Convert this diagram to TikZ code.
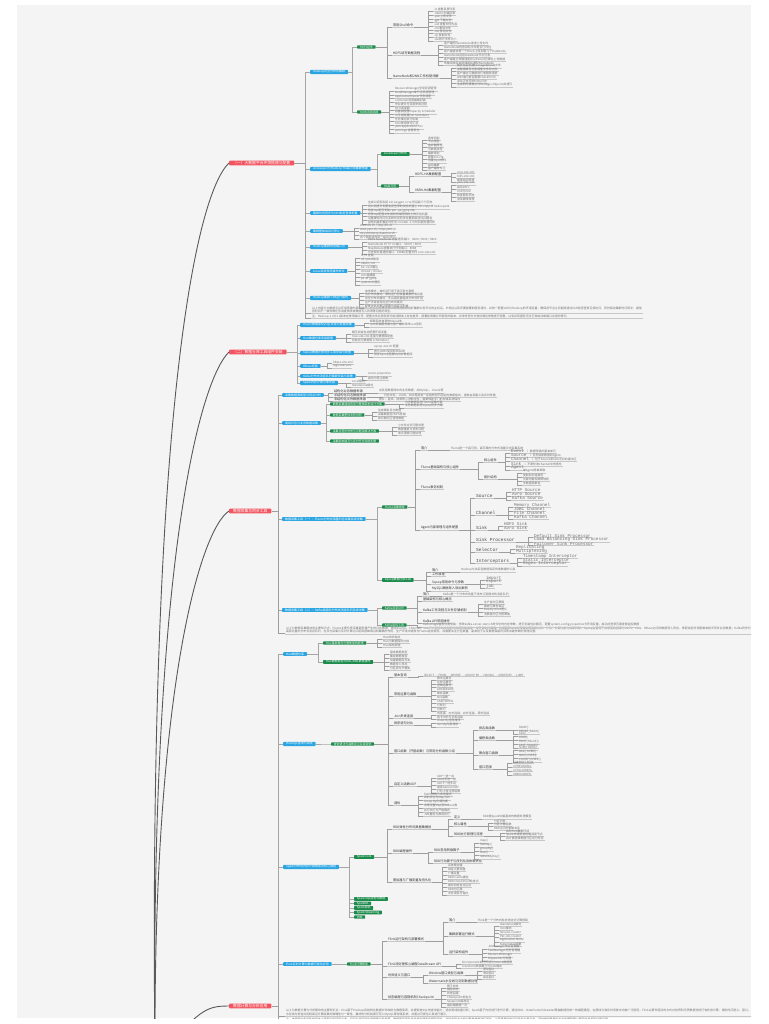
\documentclass[tikz,border=0pt]{standalone}
\usepackage{fontspec}
\setmainfont{Noto Sans CJK SC}
\newfontfamily\lat{Liberation Mono}
\XeTeXlinebreaklocale "zh"
\XeTeXlinebreakskip = 0pt plus 1pt

\definecolor{topicred}{HTML}{F25560}
\definecolor{subblue}{HTML}{2AA5E2}
\definecolor{tagreen}{HTML}{1D8B4C}
\definecolor{panel}{HTML}{F4F4F4}

\tikzset{
  topic/.style={fill=topicred, text=white, font=\fontsize{3.8}{3.8}\selectfont,
    inner xsep=4pt, inner ysep=0.6pt, rounded corners=0.8pt, anchor=west},
  blu/.style={fill=subblue, text=white, font=\fontsize{3}{3}\selectfont,
    inner xsep=2.8pt, inner ysep=0.5pt, rounded corners=0.7pt, anchor=west},
  grn/.style={fill=tagreen, text=white, font=\fontsize{2.9}{2.9}\selectfont,
    inner xsep=2.6pt, inner ysep=0.35pt, rounded corners=0.6pt, anchor=west},
  leaf/.style={text=black!55, font=\fontsize{2.9}{3.2}\selectfont,
    inner xsep=0.8pt, inner ysep=0.3pt, anchor=west,
    append after command={(\tikzlastnode.south west) edge[uline] (\tikzlastnode.south east)}},
  item/.style={leaf, text=black!80, font=\fontsize{3.2}{3.4}\selectfont},
  mono/.style={item, text=black!70, font=\lat\fontsize{4.6}{4.8}\selectfont},
  monoleaf/.style={leaf, font=\lat\fontsize{4.3}{4.5}\selectfont},
  note/.style={leaf, text width=#1, align=left, font=\fontsize{2.9}{3.6}\selectfont},
  uline/.style={draw=black!22, line width=0.35pt},
  link/.style={draw=black!38, line width=0.4pt},
  trunk/.style={draw=black!35, line width=0.8pt},
  main/.style={draw=black!65, line width=0.9pt},
}

% leaves spaced evenly: [style]{parent anchor}{prefix}{x}{first y}{step}{texts}
\newcommand{\addleaves}[7][leaf]{%
  \foreach \txt [count=\i] in {#7} {
    \node[#1] (#3\i) at (#4,{#5+(\i-1)*#6}) {\txt};
    \draw[link] (#3\i.south west) -- ++(-5,0) |- (#2);
  }}
% children at given rows: [style]{parent anchor}{prefix}{x}{y/text,...}
\newcommand{\additems}[5][item]{%
  \foreach \yy/\txt [count=\i] in {#5} {
    \node[#1] (#3\i) at (#4,\yy) {\txt};
    \draw[link] (#3\i.south west) -- ++(-5,0) |- (#2);
  }}
\newcommand{\mt}[1]{{\lat\fontsize{4.3}{4.3}\selectfont #1}}

\begin{document}
\begin{tikzpicture}[x=1pt,y=-1pt]
\useasboundingbox (0,0) rectangle (768,1024);
\fill[panel] (17,5) rectangle (751,1018);
\begin{scope}
\clip (17,5) rectangle (751,1018);

\node[topic] (R1) at (229,163)  {（一）大数据平台环境搭建与配置};
\node[topic] (R2) at (229,352)  {（二）数据仓库工具组件安装};
\node[topic] (R3) at (229,511)  {数据采集与同步工具};
\node[topic] (R4) at (229,1006) {数据计算与分析应用};

\coordinate (root) at (155,1060);
\draw[main] (root) .. controls (148,420) and (195,195) .. (R1.west);
\draw[main] (root) .. controls (150,560) and (200,380) .. (R2.west);
\draw[main] (root) .. controls (153,690) and (200,530) .. (R3.west);
\draw[main] (root) .. controls (200,1010) and (205,1006) .. (R4.west);

% (一)
\node[blu] (B1) at (310,72)  {Hadoop完全分布式集群};
\node[blu] (B2) at (310,169) {Zookeeper与Hadoop HA高可用集群搭建};
\node[blu] (B3) at (310,213) {集群时间同步与SSH免密登录配置};
\node[blu] (B4) at (310,231) {集群整体启动与停止};
\node[blu] (B5) at (310,247) {Hadoop集群常用端口号};
\node[blu] (B6) at (310,271) {Linux系统常用操作命令};
\node[blu] (B7) at (310,298) {Hadoop集群三种运行模式};
\node[note=330pt] (N1) at (311,310) {以上内容为大数据平台环境搭建的基础部分，在实际部署过程中需要提前规划好集群中各节点的主机名、IP地址以及所要部署的服务组件，并统一配置JDK与Hadoop的环境变量，确保各节点之间能够通过SSH免密登录互相访问，同时保持集群时间同步，避免因时间不一致导致任务调度失败或数据写入异常等问题的发生。};
\node[note=330pt] (N2) at (311,316.5) {注：Hadoop 2.x与3.x版本在常用端口号、配置文件名称及部分启动脚本上存在差异，部署前请确认所使用的版本，并参考官方文档对相应参数进行调整，以免出现服务无法正常启动或端口冲突的情况。};
\foreach \s in {B1,B2,B3,B4,B5,B6,B7} \draw[trunk] (\s.west) -- ++(-5,0) |- (R1.east);
\foreach \s in {N1,N2} \draw[link] (\s.south west) -- ++(-6,0) |- (R1.east);

\node[grn] (G1) at (357,47)  {HDFS组件};
\node[grn] (G2) at (357,112) {YARN资源调度};
\foreach \s in {G1,G2} \draw[trunk] (\s.west) -- ++(-5,0) |- (B1.east);
\additems{G1.east}{g1s}{392}{25/常用Shell命令, 53/HDFS读写数据流程, 76/NameNode和2NN工作机制详解}
\addleaves{g1s1.south east}{g1sa}{433}{9.3}{3.75}{-ls 查看目录列表, -mkdir 创建目录, -put 上传文件, -get 下载文件, -cat 查看文件内容, -rm 删除文件, -mv 移动文件, -cp 复制文件, -du 统计文件大小}
\addleaves{g1s2.south east}{g1sb}{443}{43}{4}{客户端向NameNode请求上传文件, NameNode检查目标文件是否已存在, 客户端请求第一个Block上传到哪几个DataNode, NameNode返回DataNode节点列表, 客户端建立传输通道并以Packet为单位上传数据, 传输完成后关闭通道并通知NameNode}
\addleaves{g1s3.south east}{g1sc}{456}{66}{3.8}{格式化后创建Fsimage和Edits文件, 加载编辑日志和镜像文件到内存, 客户端对元数据进行增删改请求, 2NN询问是否需要CheckPoint, 滚动正在写的Edits日志, 生成新的镜像文件fsimage.chkpoint并拷贝}
\addleaves{G2.east}{g2l}{394}{89}{3.8}{ResourceManager全局资源管理, NodeManager单节点资源管理, ApplicationMaster任务调度, Container资源抽象封装, 作业提交与资源申请过程, FIFO调度器, 容量调度器Capacity Scheduler, 公平调度器Fair Scheduler, 任务推测执行机制, Yarn常用命令汇总, yarn application -list, yarn logs 查看日志}

\node[grn] (G3) at (381,154) {Zookeeper分布式};
\node[grn] (G4) at (381,186) {HA高可用};
\foreach \s in {G3,G4} \draw[trunk] (\s.west) -- ++(-4,0) |- (B2.east);
\addleaves{G3.east}{g3l}{427}{138}{3.85}{选举机制, 节点类型, 监听器原理, 写数据流程, 集群规划, 配置zoo.cfg, 创建myid文件, 启动集群, 客户端命令行}
\additems{G4.east}{g4s}{414}{174/HDFS-HA集群配置, 190/YARN-HA集群配置}
\addleaves{g4s1.south east}{g4sa}{456}{172}{4}{core-site.xml, hdfs-site.xml, 故障自动转移}
\addleaves{g4s2.south east}{g4sb}{456}{183}{4}{yarn-site.xml, 启动ZKFC, rm1与rm2, 检查服务状态, 测试故障转移}

\addleaves{B3.east}{b3l}{367}{203}{3.8}{生成公钥和私钥 ssh-keygen -t rsa 然后敲三个回车, 将公钥拷贝到要免密登录的目标机器上 ssh-copy-id hadoop102, 检查ntp是否安装 rpm -qa | grep ntp, 修改ntp配置文件授权局域网网段上的所有机器, 设置硬件时间与系统时间同步并重新启动ntpd服务, 其他机器配置定时任务 crontab -e 与时间服务器同步}
\addleaves{B4.east}{b4l}{359}{226}{3.7}{start-dfs.sh / stop-dfs.sh, start-yarn.sh / stop-yarn.sh, mr-jobhistory-daemon.sh, 各个服务组件逐一启动/停止}
\addleaves{B5.east}{b5l}{367}{240}{4.2}{HDFS NameNode 内部通讯端口：8020 / 9000 / 9820, NameNode HTTP UI 端口：50070 / 9870, MapReduce查看执行任务端口：8088, 历史服务器通信端口：19888 配置文件 core-site.xml}
\addleaves{B6.east}{b6l}{360}{256}{3.85}{ls / ll 查看, cd / pwd 目录, mkdir / rm, tar -zxvf 解压, chmod / chown, vim 编辑器, ps -ef | grep, systemctl 服务}
\addleaves{B7.east}{b7l}{364}{291}{3.8}{本地模式：单机运行用于演示官方案例, 伪分布式模式：单机运行但具备集群所有功能, 完全分布式模式：多台服务器组成分布式环境, 生产环境使用完全分布式模式, 配置文件分默认配置与自定义配置}

% (二)
\node[blu] (B8)  at (300,325) {Hive元数据库MySQL安装与配置部署};
\node[blu] (B9)  at (300,338) {Hive数据仓库安装配置};
\node[blu] (B10) at (300,353) {Sqoop数据迁移同步工具安装与配置};
\node[blu] (B11) at (300,366) {HBase安装};
\node[blu] (B12) at (300,376) {Kafka分布式消息队列集群安装与部署};
\node[blu] (B13) at (300,383) {Spark内存计算引擎安装};
\foreach \s in {B8,B9,B10,B11,B12,B13} \draw[trunk] (\s.west) -- ++(-3,0) |- (R2.east);
\addleaves{B8.east}{b8l}{369}{321}{4}{卸载系统自带的MariaDB, rpm安装服务端与客户端并修改root密码}
\addleaves{B9.east}{b9l}{351}{332}{4}{解压安装包并配置环境变量, hive-site.xml 连接元数据库配置, 初始化元数据库 schematool}
\addleaves{B10.east}{b10l}{373}{347}{4}{sqoop-env.sh 配置, 拷贝JDBC驱动到lib目录, 验证Sqoop连接MySQL数据库}
\addleaves{B11.east}{b11l}{332}{362}{4}{hbase-site.xml, regionservers}
\addleaves{B12.east}{b12l}{367}{374}{4}{server.properties, 启动与停止脚本}
\addleaves{B13.east}{b13l}{351}{381}{4}{Local模式, Standalone模式}

% 数据采集
\node[blu] (B14) at (282,395) {采集数据源类型与特点分析};
\node[blu] (B15) at (282,423) {离线日志与业务数据采集};
\node[blu] (B16) at (282,519) {数据采集工具（一）：Flume分布式海量日志采集系统详解};
\node[blu] (B17) at (282,610) {数据采集工具（二）：Kafka高吞吐分布式消息队列系统详解};
\node[note=465pt] (N3) at (285,630) {以上为数据采集模块的主要知识点：Flume主要负责采集服务器产生的日志数据，通过Source、Channel、Sink三大组件构成完整的数据传输通道，并可借助拦截器、选择器和Sink处理器实现数据过滤、分流、负载均衡与故障转移；Sqoop主要用于关系型数据库与HDFS、Hive、HBase之间的数据导入导出，常配合定时调度脚本按天同步业务数据；Kafka则作为高吞吐量的分布式消息队列，在日志采集与实时计算之间起到削峰填谷和解耦的作用，生产环境中通常与Flume组合使用，并需要关注分区数量、副本因子以及数据保留时间等关键参数的合理设置。};
\foreach \s in {B14,B15,B16,B17} \draw[trunk] (\s.west) -- ++(-4,0) |- (R3.east);
\draw[link] (N3.south west) -- ++(-7,0) |- (R3.east);

\additems{B14.east}{b14s}{333}{391/结构化业务数据来源, 395/半结构化日志数据来源, 399/非结构化文件数据来源}
\additems[leaf]{b14s1.south east}{b14a}{378}{391/关系型数据库中的业务数据，如MySQL、Oracle等}
\additems[leaf]{b14s2.south east}{b14b}{383}{395/日志文件、JSON、XML等具有一定结构但不固定的数据格式，通常由采集工具实时传输}
\additems[leaf]{b14s3.south east}{b14c}{378}{399/图片、音频、视频等二进制文件，需要借助专门的存储系统保存}

\node[grn] (G5) at (330,404) {数据采集通道选型与整体架构设计方案};
\node[grn] (G6) at (330,415) {数据采集整体流程说明};
\node[grn] (G7) at (330,431) {采集过程中的常见问题及解决方案};
\node[grn] (G8) at (330,441) {采集脚本编写与定时任务调度配置};
\foreach \s in {G5,G6,G7,G8} \draw[trunk] (\s.west) -- ++(-4,0) |- (B15.east);
\addleaves{G5.east}{g5l}{404}{402}{4}{日志数据采用Flume采集方案, 业务数据采用Sqoop同步方案}
\addleaves{G6.east}{g6l}{377}{410}{4}{生成模拟日志数据, 采集数据至HDFS存储, 按日期分区管理数据}
\addleaves{G7.east}{g7l}{397}{425}{4}{小文件过多问题处理, 数据重复与丢失问题, 零点漂移问题处理}

\node[grn] (G9)  at (382,507) {Flume采集框架};
\node[grn] (G10) at (382,580) {Sqoop数据迁移工具};
\foreach \s in {G9,G10} \draw[trunk] (\s.west) -- ++(-5,0) |- (B16.east);
\additems{G9.east}{g9s}{420}{448/简介, 467/Flume基础架构与核心组件, 487/Flume事务机制, 528/Agent内部原理与组件配置}
\additems[leaf]{g9s1.south east}{g9a}{450}{448/Flume是一个高可用、高可靠的分布式海量日志采集系统}
\additems{g9s2.south east}{g9b}{483}{460/核心组件, 477/拓扑结构}
\addleaves{g9b1.south east}{g9ba}{510}{451}{4.2}{\mt{Event :} 数据传输的基本单元, \mt{Source :} 负责接收数据到Agent, \mt{Channel :} 位于Source和Sink之间的缓冲区, \mt{Sink :} 不断轮询Channel中的事件, \mt{Agent}}
\addleaves{g9b2.south east}{g9bb}{522}{471}{4}{单Agent简单串联, 复制和多路复用, 负载均衡和故障转移, 多数据源聚合}
\additems[mono]{g9s4.south east}{g9c}{475}{496/Source, 513/Channel, 528/Sink, 540/Sink Processor, 550/Selector, 561/Interceptors}
\addleaves[monoleaf]{g9c1.south east}{g9ca}{511}{490}{4}{HTTP Source, Avro Source, Kafka Source}
\addleaves[monoleaf]{g9c2.south east}{g9cb}{513}{505}{4}{Memory Channel, JDBC Channel, File Channel, Kafka Channel}
\addleaves[monoleaf]{g9c3.south east}{g9cc}{503}{524}{4}{HDFS Sink, Avro Sink}
\addleaves[monoleaf]{g9c4.south east}{g9cd}{533}{535.5}{4}{Default Sink Processor, Load Balancing Sink Processor, Failover Sink Processor}
\addleaves[monoleaf]{g9c5.south east}{g9ce}{515}{547}{4}{Replicating, Multiplexing}
\addleaves[monoleaf]{g9c6.south east}{g9cf}{522}{556}{4}{Timestamp Interceptor, Static Interceptor, Regex Interceptor}

\additems{G10.east}{g10s}{431}{570/简介, 574/工作原理, 582/Sqoop常用命令与参数, 589/MySQL数据导入导出案例}
\additems[leaf]{g10s1.south east}{g10a}{460}{570/Hadoop与关系型数据库间传递数据的工具}
\addleaves[monoleaf]{g10s3.south east}{g10b}{485}{578}{4}{import, export, job}

\node[grn] (G11) at (382,608) {Kafka消息队列};
\node[grn] (G12) at (382,625) {Kafka监控工具};
\foreach \s in {G11,G12} \draw[trunk] (\s.west) -- ++(-5,0) |- (B17.east);
\additems{G11.east}{g11s}{422}{594/简介, 599/基础架构与核心概念, 610/Kafka工作流程与文件存储机制, 621/Kafka API常用操作}
\additems[leaf]{g11s1.south east}{g11a}{442}{594/Kafka是一个分布式的基于发布订阅模式的消息队列}
\addleaves{g11s3.south east}{g11b}{483}{602}{4}{生产者分区策略, 数据可靠性保证, Exactly Once语义, 消费者分区分配策略}
\additems[leaf]{G12.east}{g12a}{422}{625/Kafka Eagle监控工具安装：修改kafka-server-start.sh命令中的内存参数，拷贝安装包并解压，配置system-config.properties与环境变量，启动并登录页面查看监控数据}

% 数据计算
\node[blu] (B18) at (283,654) {Hive数据仓库};
\node[blu] (B19) at (283,744) {HiveSQL查询与调优};
\node[blu] (B20) at (283,867) {Spark分布式内存计算框架及核心编程};
\node[blu] (B21) at (283,964) {Flink实时计算与数据可视化应用};
\node[note=465pt] (N4) at (285,1012.5) {以上为数据计算与分析模块的主要知识点：Hive基于Hadoop将结构化数据文件映射为数据库表，并提供类SQL的查询能力，适合离线批量分析；Spark基于内存进行迭代计算，通过RDD、DataFrame与DataSet等抽象提供统一的编程模型，在离线与准实时场景中均被广泛使用；Flink以事件驱动的方式对有界和无界数据流进行有状态计算，借助时间语义、窗口、水位线与检查点机制保证计算结果的准确性与一致性，最终的分析结果可写入MySQL等存储系统，并通过可视化工具进行展示。};
\node[note=465pt] (N5) at (285,1019) {注：本导图中各组件的版本以课程实验环境为准，实际生产环境中请根据业务规模、数据量及团队技术栈合理选择框架组合，并结合官方文档对集群参数进行调优，以获得更好的运行性能与稳定性，同时做好集群监控与告警配置以便及时发现和处理问题。};
\foreach \s in {B18,B19,B20,B21} \draw[trunk] (\s.west) -- ++(-5,0) |- (R4.east);
\foreach \s in {N4,N5} \draw[link] (\s.south west) -- ++(-7,0) |- (R4.east);

\node[grn] (G13) at (323,643) {Hive基本概念与整体架构原理};
\node[grn] (G14) at (323,662) {Hive数据类型与DDL/DML数据操作};
\foreach \s in {G13,G14} \draw[trunk] (\s.west) -- ++(-5,0) |- (B18.east);
\addleaves{G13.east}{g13l}{382}{637}{4}{Hive的优缺点, Hive与数据库的比较, Hive架构原理}
\addleaves{G14.east}{g14l}{389}{652}{4}{基本数据类型, 集合数据类型, 创建数据库与表, 数据导入导出, 分区表与分桶表}

\node[grn] (G15) at (331,744) {查询语法与函数及企业级调优};
\draw[trunk] (G15.west) -- ++(-5,0) |- (B19.east);
\additems{G15.east}{g15s}{393}{675/基本查询, 694/常用运算与函数, 716/Join多表连接, 723/排序语句对比, 751/窗口函数（开窗函数）与常用分析函数介绍, 784/自定义函数UDF, 803/调优}
\additems[leaf]{g15s1.south east}{g15a}{423}{675/SELECT … FROM … WHERE … GROUP BY … HAVING … ORDER BY … LIMIT}
\addleaves{g15s2.south east}{g15b}{436}{678}{3.9}{算术运算符, 比较运算符, 逻辑运算符, LIKE和RLIKE, 聚合函数, NVL函数, CASE WHEN, 行转列, 列转行}
\addleaves{g15s3.south east}{g15c}{436}{713}{4}{内连接、左外连接、右外连接、满外连接, 笛卡尔积与多表连接}
\addleaves{g15s4.south east}{g15d}{436}{721}{4}{Order By全局排序, Sort By内部排序}
\additems{g15s5.south east}{g15e}{478}{728/排名类函数, 738/偏移类函数, 753/聚合窗口函数, 767/窗口范围}
\addleaves{g15e1.south east}{g15ea}{518}{728}{4}{RANK(), DENSE\_RANK()}
\addleaves{g15e2.south east}{g15eb}{518}{734}{4}{LAG(), LEAD(), FIRST\_VALUE(), LAST\_VALUE()}
\addleaves{g15e3.south east}{g15ec}{518}{748}{4}{SUM() OVER(), AVG() OVER(), MAX() OVER(), COUNT() OVER()}
\addleaves{g15e4.south east}{g15ed}{512}{762}{4}{CURRENT ROW, n PRECEDING, n FOLLOWING, UNBOUNDED}
\addleaves{g15s6.south east}{g15f}{436}{776}{3.8}{UDF一进一出, UDAF多进一出, UDTF一进多出, 继承GenericUDF, 打包上传注册函数}
\addleaves{g15s7.south east}{g15g}{423}{794}{4}{Fetch抓取与本地模式, 表的优化与MapJoin, Group By负载均衡, 合理设置Map及Reduce数, 并行执行与严格模式, JVM重用与推测执行}

\node[grn] (G16) at (354,857) {Spark Core};
\node[grn] (G17) at (354,899) {Spark SQL结构化数据};
\node[grn] (G18) at (354,903.5) {SparkML};
\node[grn] (G19) at (354,908) {Spark调优};
\node[grn] (G20) at (354,912.5) {Spark Streaming};
\node[grn] (G21) at (354,917) {内核};
\foreach \s in {G16,G17,G18,G19,G20,G21} \draw[trunk] (\s.west) -- ++(-5,0) |- (B20.east);
\additems{G16.east}{g16s}{392}{827/RDD弹性分布式数据集概述, 851/RDD编程操作, 880/累加器与广播变量及持久化}
\additems{g16s1.south east}{g16a}{453}{817/定义, 824/核心属性, 834/RDD执行原理与流程}
\additems[leaf]{g16a1.south east}{g16aa}{482}{817/RDD是Spark中最基本的数据处理模型}
\addleaves{g16a2.south east}{g16ab}{493}{821}{3.6}{分区列表, 分区计算函数, RDD之间的依赖关系}
\addleaves{g16a3.south east}{g16ac}{505}{831}{3.6}{启动Yarn集群环境, Spark申请资源创建调度节点, 将计算逻辑根据分区划分任务}
\additems{g16s2.south east}{g16b}{433}{850/RDD常用转换算子, 861/RDD行动算子与序列化及依赖关系}
\addleaves{g16b1.south east}{g16ba}{479}{841}{4}{map(), flatMap(), groupBy(), filter(), reduceByKey()}
\addleaves{g16s3.south east}{g16c}{447}{865}{4}{系统累加器, 自定义累加器, 广播变量, RDD Cache缓存, RDD CheckPoint检查点, 缓存和检查点区别, RDD分区器, 文件读取与保存}

\node[grn] (G22) at (347,964) {Flink计算框架};
\draw[trunk] (G22.west) -- ++(-5,0) |- (B21.east);
\additems{G22.east}{g22s}{387}{939/Flink运行架构与部署模式, 964/Flink流处理核心编程DataStream API, 975/时间语义与窗口, 997/状态编程与容错机制Checkpoint}
\additems{g22s1.south east}{g22a}{448}{920/简介, 934/集群部署运行模式, 952/运行架构组件}
\additems[leaf]{g22a1.south east}{g22aa}{477}{920/Flink是一个分布式有状态流式计算框架}
\addleaves{g22a2.south east}{g22ab}{499}{924}{4}{Standalone模式, Yarn模式, Session-Cluster, Per-Job-Cluster, Application Mode, Kubernetes部署}
\addleaves{g22a3.south east}{g22ac}{487}{947}{4}{JobManager作业管理器, TaskManager任务管理器, ResourceManager, Dispatcher分发器}
\addleaves{g22s2.south east}{g22b}{461}{962}{4}{Environment执行环境与Source数据源, Transform转换算子与Sink输出}
\additems{g22s3.south east}{g22c}{428}{973/Window窗口类型与函数, 981/Watermark水位线与迟到数据处理}
\addleaves{g22c1.south east}{g22ca}{482}{969}{4}{滚动窗口, 滑动窗口, 会话窗口}
\addleaves{g22s4.south east}{g22d}{446}{986}{3.8}{算子状态, 键控状态, 状态后端, Checkpoint检查点, Savepoint保存点, 端到端精确一次}

\end{scope}
\end{tikzpicture}
\end{document}
